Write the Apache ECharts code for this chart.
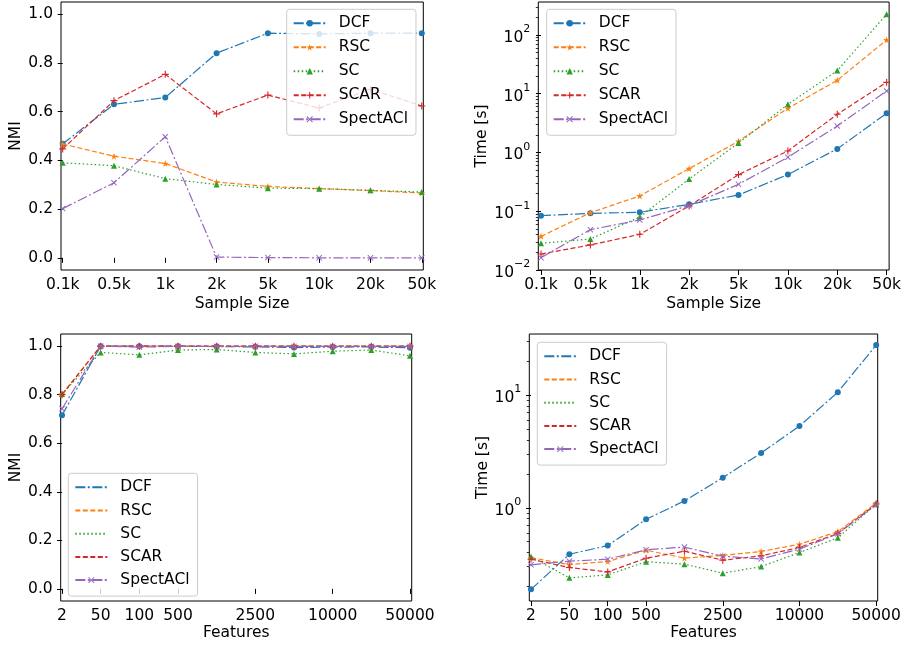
<!DOCTYPE html>
<html>
<head>
<meta charset="utf-8">
<script src="https://cdn.jsdelivr.net/npm/echarts@6/dist/echarts.min.js"></script>
<style>html,body{margin:0;padding:0;background:#fff}#c{width:904px;height:645px}</style>
</head>
<body>
<div id="c"></div>
<script>
// ---------- data ----------
const methods = ['DCF', 'RSC', 'SC', 'SCAR', 'SpectACl'];
const sampleSizes = ['0.1k', '0.5k', '1k', '2k', '5k', '10k', '20k', '50k'];
const featureCounts = [2, 50, 100, 500, 1000, 2500, 5000, 10000, 25000, 50000];
const labeledFeatures = [2, 50, 100, 500, 2500, 10000, 50000];

const nmiSampleDCF  = [0.468, 0.630, 0.658, 0.840, 0.922, 0.919, 0.922, 0.922];
const nmiSampleRSC  = [0.467, 0.417, 0.387, 0.311, 0.293, 0.284, 0.276, 0.266];
const nmiSampleSC   = [0.390, 0.378, 0.325, 0.301, 0.286, 0.284, 0.277, 0.270];
const nmiSampleSCAR = [0.447, 0.645, 0.753, 0.591, 0.668, 0.615, 0.692, 0.623];
const nmiSampleSpectACl = [0.202, 0.308, 0.497, 0.003, 0.001, 0.000, 0.000, 0.000];

const timeSampleDCF  = [0.084, 0.092, 0.096, 0.131, 0.189, 0.42, 1.15, 4.64];
const timeSampleRSC  = [0.0374, 0.0946, 0.182, 0.531, 1.55, 5.64, 16.9, 82.2];
const timeSampleSC   = [0.0284, 0.0337, 0.0798, 0.354, 1.45, 6.6, 24.7, 225];
const timeSampleSCAR = [0.0187, 0.0267, 0.0405, 0.123, 0.42, 1.06, 4.47, 15.6];
const timeSampleSpectACl = [0.0162, 0.0486, 0.071, 0.1245, 0.287, 0.828, 2.82, 11.1];

const nmiFeatDCF  = [0.715, 1.0, 1.0, 1.0, 0.998, 0.997, 0.994, 0.996, 0.997, 0.993];
const nmiFeatRSC  = [0.802, 1.0, 1.0, 1.0, 1.0, 1.0, 1.0, 1.0, 1.0, 1.0];
const nmiFeatSC   = [0.803, 0.974, 0.964, 0.984, 0.986, 0.974, 0.968, 0.979, 0.984, 0.960];
const nmiFeatSCAR = [0.800, 1.0, 1.0, 1.0, 1.0, 1.0, 1.0, 1.0, 1.0, 1.0];
const nmiFeatSpectACl = [0.742, 1.0, 0.996, 0.999, 0.999, 1.0, 0.999, 0.999, 0.999, 0.999];

const timeFeatDCF  = [0.189, 0.387, 0.462, 0.79, 1.15, 1.85, 3.06, 5.31, 10.6, 27.8];
const timeFeatRSC  = [0.361, 0.313, 0.334, 0.42, 0.358, 0.378, 0.41, 0.475, 0.615, 1.10];
const timeFeatSC   = [0.367, 0.239, 0.254, 0.332, 0.316, 0.263, 0.301, 0.401, 0.542, 1.08];
const timeFeatSCAR = [0.350, 0.295, 0.270, 0.357, 0.412, 0.343, 0.375, 0.445, 0.592, 1.08];
const timeFeatSpectACl = [0.312, 0.336, 0.350, 0.424, 0.448, 0.372, 0.352, 0.430, 0.588, 1.06];

const nmiTicks = [0, 0.2, 0.4, 0.6, 0.8, 1.0];

// ---------- styles ----------
const FONT = 'DejaVu Sans';
const FS = 15.5;
const colors = ['#1f77b4', '#ff7f0e', '#2ca02c', '#d62728', '#9467bd'];
const dashDot = [10, 2.5, 2, 2.5];
const dashed = [5, 2.5];
const dotted = [1.5, 2.5];
const lineTypes = [dashDot, dashed, dotted, dashed, dashDot];
const STAR = 'path://M50,0 L61.8,36.2 L100,36.2 L69.1,58.8 L80.9,95.1 L50,72.4 L19.1,95.1 L30.9,58.8 L0,36.2 L38.2,36.2 Z';
const PLUS = 'path://M42,0 H58 V42 H100 V58 H58 V100 H42 V58 H0 V42 H42 Z';
const CROSS = 'path://M11,0 L50,39 L89,0 L100,11 L61,50 L100,89 L89,100 L50,61 L11,100 L0,89 L39,50 L0,11 Z';
const symbols = ['circle', STAR, 'triangle', PLUS, CROSS];
const symbolSizes = [6, 7, 6, 7, 6];

function supLabel(v) {
  const e = Math.round(Math.log10(v));
  return '{b|10}{s|' + (e < 0 ? '\u2212' + (-e) : e) + '}';
}
const supRich = {
  b: { fontSize: FS, fontFamily: FONT, color: '#000', lineHeight: 22, verticalAlign: 'bottom' },
  s: { fontSize: 11, fontFamily: FONT, color: '#000', lineHeight: 22, verticalAlign: 'top' }
};

function minorLogTicks(lo, hi) {
  const out = [];
  for (let e = Math.floor(Math.log10(lo)); e <= Math.ceil(Math.log10(hi)); e++) {
    for (let m = 2; m <= 9; m++) {
      const v = m * Math.pow(10, e);
      if (v >= lo && v <= hi) out.push(v);
    }
  }
  return out;
}
function majorLogTicks(lo, hi) {
  const out = [];
  for (let e = Math.ceil(Math.log10(lo) - 1e-9); e <= Math.floor(Math.log10(hi) + 1e-9); e++) out.push(Math.pow(10, e));
  return out;
}

const grids = [
  { left: 61, top: 2, width: 362.3, height: 268 },
  { left: 538.3, top: 2, width: 351, height: 268 },
  { left: 60.7, top: 334, width: 351, height: 267 },
  { left: 529.3, top: 334, width: 348.4, height: 267 }
].map(g => Object.assign({ show: true, borderColor: '#000', borderWidth: 1, backgroundColor: 'transparent' }, g));

const tickStyle = { show: true, inside: false, length: 5, lineStyle: { color: '#000', width: 1 } };
const labelStyle = { color: '#000', fontSize: FS, fontFamily: FONT };
const nameStyle = { color: '#000', fontSize: FS, fontFamily: FONT };

const sampleIdx = sampleSizes.map((_, i) => i);
const featTickIdx = labeledFeatures.map(f => featureCounts.indexOf(f));

function xAxisFor(gridIndex, min, max, tickIdx, labelFn, nameGap, name) {
  return {
    type: 'value', gridIndex, min, max,
    name, nameLocation: 'middle', nameGap, nameTextStyle: nameStyle,
    axisLine: { show: false },
    axisTick: Object.assign({ customValues: tickIdx }, tickStyle),
    axisLabel: Object.assign({ customValues: tickIdx, margin: 7, formatter: v => labelFn(Math.round(v)) }, labelStyle),
    splitLine: { show: false }
  };
}

const xAxes = [
  xAxisFor(0, -0.033, 7.03, sampleIdx, i => sampleSizes[i], 26, 'Sample Size'),
  xAxisFor(1, -0.055, 7.05, sampleIdx, i => sampleSizes[i], 26, 'Sample Size'),
  xAxisFor(2, -0.034, 9.044, featTickIdx, i => String(featureCounts[i]), 24, 'Features'),
  xAxisFor(3, -0.045, 9.04, featTickIdx, i => String(featureCounts[i]), 24, 'Features')
];

function linY(gridIndex, nameGap) {
  return {
    type: 'value', gridIndex, min: -0.05, max: 1.05,
    name: 'NMI', nameLocation: 'middle', nameGap, nameTextStyle: nameStyle,
    axisLine: { show: false },
    axisTick: Object.assign({ customValues: nmiTicks }, tickStyle),
    axisLabel: Object.assign({ customValues: nmiTicks, margin: 8, formatter: v => v.toFixed(1) }, labelStyle),
    splitLine: { show: false }
  };
}
function logY(gridIndex, lo, hi, nameGap) {
  return {
    type: 'log', logBase: 10, gridIndex, min: lo, max: hi,
    name: 'Time [s]', nameLocation: 'middle', nameGap, nameTextStyle: nameStyle,
    axisLine: { show: false },
    axisTick: Object.assign({ customValues: majorLogTicks(lo, hi) }, tickStyle),
    axisLabel: { customValues: majorLogTicks(lo, hi), margin: 8, formatter: supLabel, rich: supRich },
    splitLine: { show: false }, minorSplitLine: { show: false }
  };
}
function logMinorY(gridIndex, lo, hi) {
  return {
    type: 'log', logBase: 10, gridIndex, min: lo, max: hi, position: 'left',
    axisLine: { show: false },
    axisTick: { show: true, inside: false, length: 2.5, customValues: minorLogTicks(lo, hi), lineStyle: { color: '#000', width: 0.8 } },
    axisLabel: { show: false },
    splitLine: { show: false }
  };
}

const yAxes = [
  linY(0, 31),
  logY(1, 0.01, 363, 45),
  linY(2, 30),
  logY(3, 0.149, 34.8, 36),
  logMinorY(1, 0.01, 363),
  logMinorY(3, 0.149, 34.8)
];

const panels = [
  { grid: 0, y: 0, vals: [nmiSampleDCF, nmiSampleRSC, nmiSampleSC, nmiSampleSCAR, nmiSampleSpectACl] },
  { grid: 1, y: 1, vals: [timeSampleDCF, timeSampleRSC, timeSampleSC, timeSampleSCAR, timeSampleSpectACl] },
  { grid: 2, y: 2, vals: [nmiFeatDCF, nmiFeatRSC, nmiFeatSC, nmiFeatSCAR, nmiFeatSpectACl] },
  { grid: 3, y: 3, vals: [timeFeatDCF, timeFeatRSC, timeFeatSC, timeFeatSCAR, timeFeatSpectACl] }
];

const series = [];
panels.forEach(p => {
  methods.forEach((m, k) => {
    series.push({
      type: 'line', name: m, xAxisIndex: p.grid, yAxisIndex: p.y,
      data: p.vals[k].map((v, i) => [i, v]),
      symbol: symbols[k], symbolSize: symbolSizes[k], showSymbol: true,
      color: colors[k],
      lineStyle: { color: colors[k], width: 1.2, type: lineTypes[k] },
      itemStyle: { color: colors[k] },
      animation: false, silent: true, z: 2 + k * 0.01
    });
  });
});

function legendAt(left, top, gap, hideMarkers) {
  return {
    orient: 'vertical', left, top,
    itemWidth: 32, itemHeight: 8, itemGap: gap,
    padding: [6, 8, 8, 6],
    backgroundColor: 'rgba(255,255,255,0.8)', borderColor: '#ccc', borderWidth: 1, borderRadius: 3,
    textStyle: { color: '#000', fontSize: FS, fontFamily: FONT, lineHeight: 16, padding: [0, 0, 0, 8] },
    selectedMode: false,
    data: methods.map((m, k) => (hideMarkers && k < 4) ? { name: m, itemStyle: { opacity: 0 } } : { name: m })
  };
}

const option = {
  animation: false,
  backgroundColor: '#fff',
  textStyle: { fontFamily: FONT },
  grid: grids,
  xAxis: xAxes,
  yAxis: yAxes,
  legend: [
    legendAt(286.7, 9.3, 8, false),
    legendAt(546.7, 9.3, 8, false),
    legendAt(68.3, 473.3, 7.2, true),
    legendAt(537.3, 342.3, 7.2, true)
  ],
  series
};

const chart = echarts.init(document.getElementById('c'), null, { renderer: 'canvas' });
chart.setOption(option);
</script>
</body>
</html>
